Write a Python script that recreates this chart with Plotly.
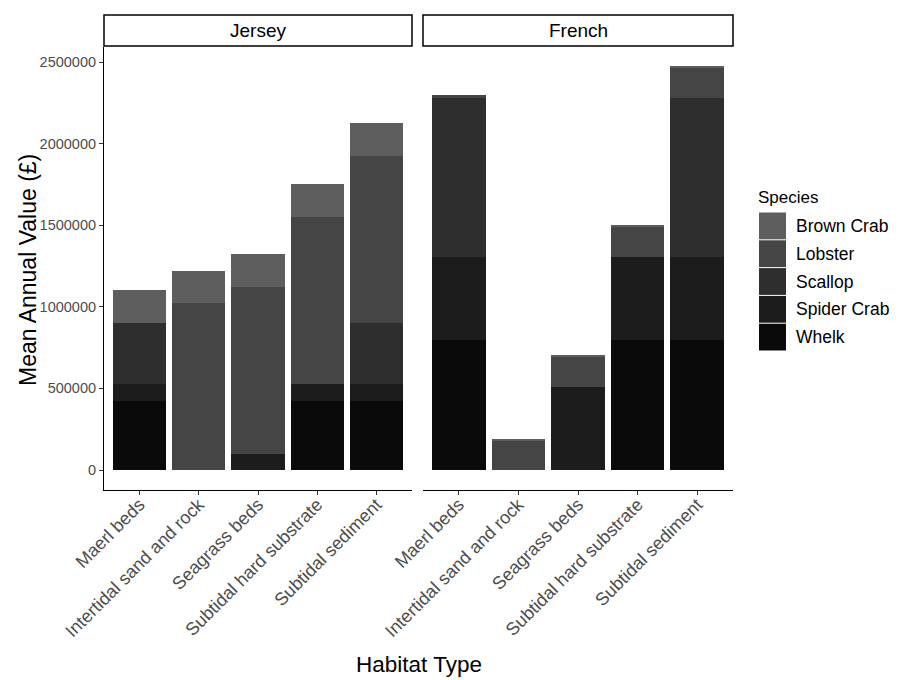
import plotly.graph_objects as go

# Habitat categories and fleets
habitats = ["Maerl beds", "Intertidal sand and rock", "Seagrass beds",
            "Subtidal hard substrate", "Subtidal sediment"]
fleets = ["Jersey", "French"]

# Species in stacking order (bottom to top) and their grey fills
species = ["Whelk", "Spider Crab", "Scallop", "Lobster", "Brown Crab"]
colors = {"Whelk": "#0a0a0a", "Spider Crab": "#1c1c1c", "Scallop": "#2e2e2e",
          "Lobster": "#454545", "Brown Crab": "#5e5e5e"}

# Mean annual value (GBP) per habitat, Jersey fleet
jersey_whelk = [425000, 0, 0, 425000, 425000]
jersey_spider_crab = [102000, 0, 100000, 102000, 102000]
jersey_scallop = [373000, 0, 0, 0, 375000]
jersey_lobster = [0, 1022000, 1022000, 1025000, 1025000]
jersey_brown_crab = [200000, 200000, 200000, 200000, 200000]

# Mean annual value (GBP) per habitat, French fleet
french_whelk = [797000, 0, 0, 797000, 797000]
french_spider_crab = [510000, 0, 510000, 510000, 510000]
french_scallop = [975000, 0, 0, 0, 975000]
french_lobster = [16000, 180000, 188000, 186000, 186000]
french_brown_crab = [0, 6000, 6000, 6000, 8000]

values = {
    "Jersey": {"Whelk": jersey_whelk, "Spider Crab": jersey_spider_crab,
               "Scallop": jersey_scallop, "Lobster": jersey_lobster,
               "Brown Crab": jersey_brown_crab},
    "French": {"Whelk": french_whelk, "Spider Crab": french_spider_crab,
               "Scallop": french_scallop, "Lobster": french_lobster,
               "Brown Crab": french_brown_crab},
}

y_ticks = [0, 500000, 1000000, 1500000, 2000000, 2500000]

W, H = 899, 680
FONT = "Liberation Sans, Arial, sans-serif"

fig = go.Figure()
for i, fleet in enumerate(fleets):
    xa = "x" if i == 0 else "x2"
    for sp in species:
        fig.add_trace(go.Bar(
            x=habitats, y=values[fleet][sp], name=sp, xaxis=xa, yaxis="y",
            marker=dict(color=colors[sp], line=dict(width=0)),
            width=0.9, showlegend=False,
            hovertemplate=fleet + "<br>%{x}<br>" + sp + ": £%{y:,}<extra></extra>",
        ))

# Panel geometry in pixels
left_dom = (104, 412)
right_dom = (423, 733)
plot_top, plot_bot = 47, 490

def fx(px):
    return px / W

def fy(py):
    return 1 - py / H

axis_common = dict(
    type="category", categoryorder="array", categoryarray=habitats,
    range=[-0.6, 4.6], showline=True, linecolor="black", linewidth=1.1,
    ticks="outside", ticklen=4, tickcolor="#333333", tickwidth=1.1,
    tickangle=-45, tickfont=dict(family=FONT, size=18, color="#4d4d4d"),
    ticklabelstandoff=-8,
    showgrid=False, zeroline=False, anchor="y", automargin=False,
)

fig.update_layout(
    template="none",
    width=W, height=H,
    margin=dict(l=0, r=0, t=0, b=0),
    paper_bgcolor="white", plot_bgcolor="white",
    barmode="stack", bargap=0, showlegend=False,
    font=dict(family=FONT),
    xaxis=dict(domain=[fx(left_dom[0]), fx(left_dom[1])], **axis_common),
    xaxis2=dict(domain=[fx(right_dom[0]), fx(right_dom[1])], **axis_common),
    yaxis=dict(
        domain=[fy(plot_bot), fy(plot_top)], range=[-122500, 2592000],
        tickvals=y_ticks, ticktext=[str(v) for v in y_ticks],
        showline=True, linecolor="black", linewidth=1.1,
        ticks="outside", ticklen=4, tickcolor="#333333", tickwidth=1.1,
        tickfont=dict(family=FONT, size=14.5, color="#4d4d4d"),
        showgrid=False, zeroline=False, anchor="x", automargin=False,
    ),
)

shapes = []
annotations = []

# Facet strips
for fleet, dom in zip(fleets, [left_dom, right_dom]):
    shapes.append(dict(type="rect", xref="paper", yref="paper",
                       x0=fx(dom[0]), x1=fx(dom[1]), y0=fy(46), y1=fy(15),
                       line=dict(color="black", width=1.5), fillcolor="white"))
    annotations.append(dict(xref="paper", yref="paper",
                            x=fx((dom[0] + dom[1]) / 2), y=fy(31),
                            text=fleet, showarrow=False,
                            font=dict(family=FONT, size=19, color="black"),
                            xanchor="center", yanchor="middle"))

# Axis titles
annotations.append(dict(xref="paper", yref="paper", x=fx(419), y=fy(664),
                        text="Habitat Type", showarrow=False,
                        font=dict(family=FONT, size=22.5, color="black"),
                        xanchor="center", yanchor="middle"))
annotations.append(dict(xref="paper", yref="paper", x=fx(28), y=fy(270),
                        text="Mean Annual Value (£)", showarrow=False, textangle=-90,
                        font=dict(family=FONT, size=23, color="black"),
                        xanchor="center", yanchor="middle"))

# Legend
annotations.append(dict(xref="paper", yref="paper", x=fx(756), y=fy(197),
                        text="Species", showarrow=False,
                        font=dict(family=FONT, size=17, color="black"),
                        xanchor="left", yanchor="middle"))
key_top = 212
key_h = 27.8
for k, sp in enumerate(reversed(species)):
    y0 = key_top + k * key_h
    shapes.append(dict(type="rect", xref="paper", yref="paper",
                       x0=fx(759), x1=fx(786), y0=fy(y0 + key_h - 0.5), y1=fy(y0 + 0.5),
                       line=dict(width=0), fillcolor=colors[sp]))
    annotations.append(dict(xref="paper", yref="paper", x=fx(794),
                            y=fy(y0 + key_h / 2),
                            text=sp, showarrow=False,
                            font=dict(family=FONT, size=17.5, color="black"),
                            xanchor="left", yanchor="middle"))

fig.update_layout(shapes=shapes, annotations=annotations)

fig.write_html("out.html")
